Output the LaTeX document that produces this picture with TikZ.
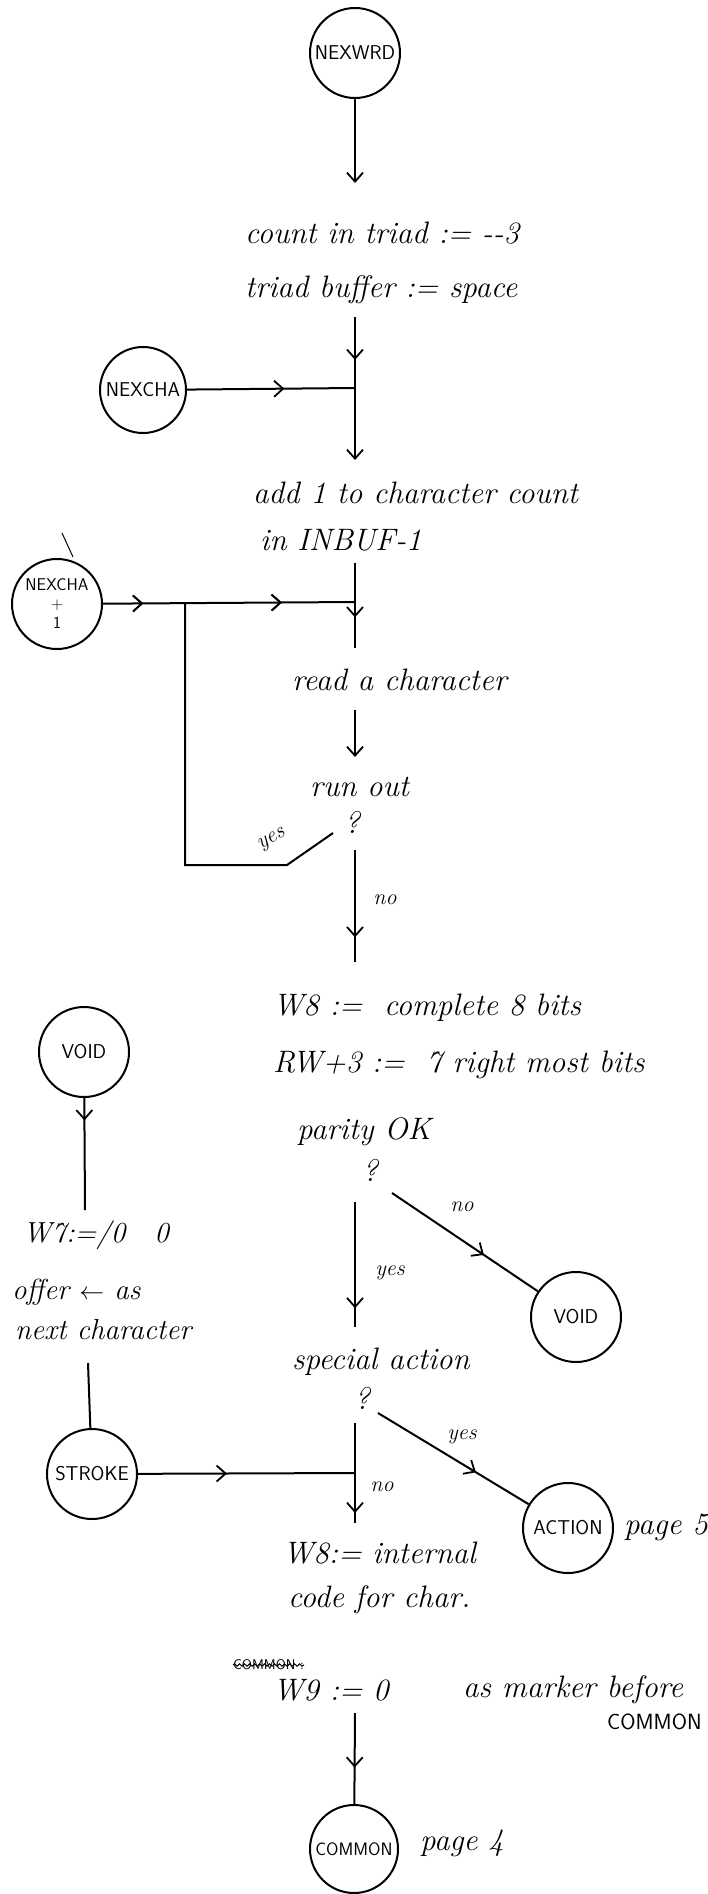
\documentclass[tikz,border=0pt]{standalone}
\usepackage{fontspec}
\usetikzlibrary{arrows.meta,decorations.markings,decorations.pathmorphing}
\begin{document}
\begin{tikzpicture}[x=1pt,y=-1pt,
  every node/.style={inner sep=0pt},
  lbl/.style={font=\fontsize{31}{33}\selectfont\itshape, anchor=west},
  lbls/.style={font=\fontsize{29}{31}\selectfont\itshape, anchor=west},
  sml/.style={font=\fontsize{22}{24}\selectfont\itshape},
  circ/.style={circle, draw, line width=2pt, minimum size=90pt, font=\fontsize{20}{21}\selectfont\sffamily},
  ln/.style={line width=2pt},
  thin/.style={line width=1pt},
  tip/.style={-{Straight Barb[length=9pt,width=16pt,line width=1.8pt]}},
  midarrow/.style={postaction={decorate}, decoration={markings, mark=at position #1 with {\arrow{Straight Barb[length=9pt,width=16pt,line width=1.8pt]}}}},
]
\fill[white] (0,0) rectangle (707,1894);
\useasboundingbox (0,0) rectangle (707,1894);

% circles
\node[circ] (nexwrd) at (355,53) {NEXWRD};
\node[circ, minimum size=86pt] (nexcha) at (143,390) {NEXCHA};
\node[circ, align=center, font=\fontsize{17}{19}\selectfont\sffamily] (nexcha1) at (57,604) {NEXCHA\\+\\1};
\node[circ] (void1) at (84,1052) {VOID};
\node[circ] (void2) at (576,1317) {VOID};
\node[circ] (stroke) at (92,1474) {STROKE};
\node[circ] (action) at (568,1528) {ACTION};
\node[circ, minimum size=88pt, font=\fontsize{18}{19}\selectfont\sffamily] (common) at (354,1849) {COMMON};

% texts
\node[lbl] (t1) at (245,233) {count in triad := -{}-3};
\node[lbl] (t2) at (245,290) {triad buffer := space};
\node[lbl] (t3) at (253,493) {add 1 to character count};
\node[lbl] (t4) at (260,540) {in INBUF-1};
\node[lbl] (t5) at (292,680) {read a character};
\node[lbl] (t6) at (310,787) {run out};
\node[lbl, anchor=center] (q1) at (352,822) {?};
\node[sml] (no1) at (385,900) {no};
\node[sml, rotate=30] (yes1) at (272,840) {yes};
\node[lbl] (t7) at (273,1008) {W8 :=\ \ complete 8 bits};
\node[lbl] (t8) at (273,1065) {RW+3 :=\ \ 7 right most bits};
\node[lbl] (t9) at (297,1132) {parity OK};
\node[lbl, anchor=center] (q2) at (370,1170) {?};
\node[sml] (no2) at (462,1207) {no};
\node[sml] (yes2) at (390,1273) {yes};
\node[lbl] (t10) at (292,1362) {special action};
\node[lbl, anchor=center] (q3) at (362,1398) {?};
\node[sml] (yes3) at (462,1437) {yes};
\node[sml] (no3) at (382,1487) {no};
\node[lbl] (t11) at (283,1553) {W8:= internal};
\node[lbl] (t12) at (288,1600) {code for char.};
\node[anchor=west, font=\fontsize{14}{15}\selectfont\sffamily] (cx) at (233,1665) {COMMON :};
\node[lbl] (t13) at (273,1690) {W9 := 0};
\node[lbl] (t14) at (463,1690) {as marker before};
\node[anchor=west, font=\fontsize{22}{24}\selectfont\sffamily] (t15) at (607,1722) {COMMON};
\node[lbl] (p5) at (624,1527) {page 5};
\node[lbl] (p4) at (420,1843) {page 4};
\node[lbls] (t16) at (23,1235) {W7:=/0\quad 0};
\node[lbls] (t17) at (12,1292) {offer $\leftarrow$ as};
\node[lbls] (t18) at (15,1330) {next character};

% coordinates
\coordinate (c1) at (355,183);
\coordinate (a1) at (355,317);
\coordinate (j1) at (355,388);
\coordinate (a2) at (355,460);
\coordinate (a3) at (355,563);
\coordinate (j2) at (355,602);
\coordinate (a4) at (355,648);
\coordinate (b1) at (185,602);
\coordinate (b2) at (185,865);
\coordinate (b3) at (287,865);
\coordinate (b4) at (333,833);
\coordinate (a5) at (355,710);
\coordinate (a6) at (355,757);
\coordinate (a7) at (355,850);
\coordinate (a8) at (355,962);
\coordinate (v1) at (85,1210);
\coordinate (v2) at (88,1363);
\coordinate (a9) at (355,1202);
\coordinate (a10) at (355,1327);
\coordinate (d1) at (392,1193);
\coordinate (a11) at (355,1423);
\coordinate (j3) at (355,1473);
\coordinate (a12) at (355,1523);
\coordinate (d2) at (378,1413);
\coordinate (a13) at (355,1713);

% connectors
\draw[ln, tip] (nexwrd) -- (c1);
\draw[ln, midarrow=0.3, tip] (a1) -- (a2);
\draw[ln, midarrow=0.58] (nexcha) -- (j1);
\draw[ln, midarrow=0.64] (a3) -- (a4);
\draw[ln, midarrow=0.16, midarrow=0.71] (nexcha1) -- (j2);
\draw[ln] (b4) -- (b3) -- (b2) -- (b1);
\draw[ln, tip] (a5) -- (a6);
\draw[ln, midarrow=0.78] (a7) -- (a8);
\draw[ln, midarrow=0.2] (void1) -- (v1);
\draw[ln] (v2) -- (stroke);
\draw[ln, midarrow=0.41] (stroke) -- (j3);
\draw[ln, midarrow=0.85] (a9) -- (a10);
\draw[ln, midarrow=0.9] (a11) -- (a12);
\draw[ln, midarrow=0.63] (d1) -- (void2);
\draw[ln, midarrow=0.65] (d2) -- (action);
\draw[ln, midarrow=0.6] (a13) -- (common);

% strike through and stray marks
\draw[thin, decorate, decoration={snake, amplitude=1.2pt, segment length=5pt}] (cx.west) -- (cx.east);
\coordinate (s1) at (62,533);
\coordinate (s2) at (73,557);
\draw[thin] (s1) -- (s2);
\end{tikzpicture}
\end{document}
